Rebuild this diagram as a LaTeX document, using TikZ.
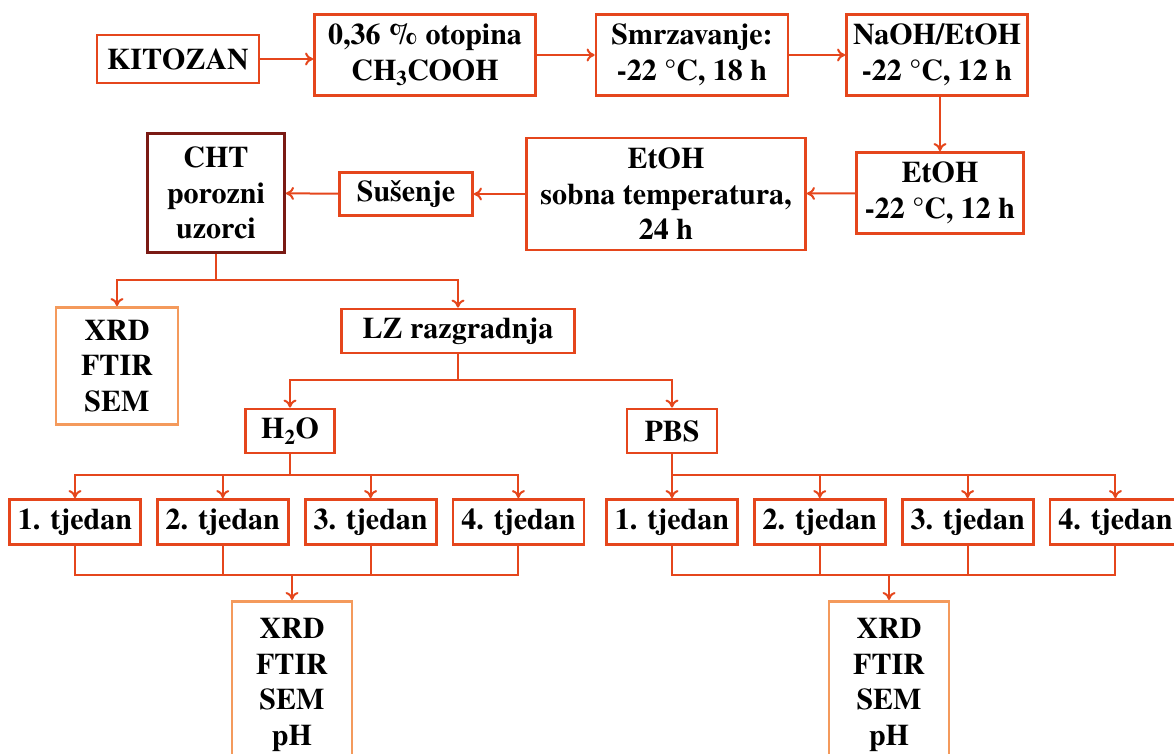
\documentclass[tikz,border=0pt]{standalone}
\usepackage{fontspec}
\setmainfont{texgyretermes}[Extension=.otf, UprightFont=*-regular, BoldFont=*-bold,
    ItalicFont=*-italic, BoldItalicFont=*-bolditalic]
\usetikzlibrary{positioning, arrows.meta, calc}
\definecolor{crv}{HTML}{E5461C}
\definecolor{svj}{HTML}{F49A5C}
\definecolor{tam}{HTML}{7A1A14}

\tikzset{
    box/.style={draw=crv, line width=2.8pt, fill=white, align=center, inner sep=0pt,
        font=\rmfamily\fontsize{30}{35.5}\selectfont\bfseries},
    tamna/.style={box, draw=tam},
    svijetla/.style={box, draw=svj},
    tjedan/.style={box, minimum width=131pt, minimum height=45pt},
    veza/.style={draw=crv, line width=2pt},
    strelica/.style={veza, -{To[length=8pt, width=13pt]}},
}

\begin{document}
\begin{tikzpicture}[x=1pt, y=-1pt, node distance=14pt]
        \path[use as bounding box, clip] (0,0) rectangle (1174,753);

        % gornji red
        \node[box, minimum width=162pt, minimum height=48pt] (kit) at (178,59) {KITOZAN};
        \node[box, minimum width=221pt, minimum height=81pt] (otop) at (425,55) {0,36 \% otopina\\CH\textsubscript{3}COOH};
        \node[box, minimum width=192pt, minimum height=81pt] (smrz) at (692,55) {Smrzavanje:\\-22 °C, 18 h};
        \node[box, minimum width=181pt, minimum height=81pt] (naoh) at (937,55) {NaOH/EtOH\\-22 °C, 12 h};

        % drugi red
        \node[box, minimum width=167pt, minimum height=81pt] (etoh) at (940,193) {EtOH\\-22 °C, 12 h};
        \node[box, minimum width=279pt, minimum height=112pt] (sobna) at (666,194) {EtOH\\sobna temperatura,\\24 h};
        \node[box, minimum width=133pt, minimum height=43pt] (sus) at (406,194) {Sušenje};
        \node[tamna, minimum width=137pt, minimum height=119pt] (cht) at (216,193) {CHT\\porozni\\uzorci};

        \node[svijetla, minimum width=122pt, minimum height=117pt] (anal) at (117,366) {XRD\\FTIR\\SEM};
        \node[box, minimum width=233pt, minimum height=44pt] (lz) at (458,331) {LZ razgradnja};
        \node[box, minimum width=89pt, minimum height=44pt] (voda) at (290,431) {H\textsubscript{2}O};
        \node[box, minimum width=90pt, minimum height=44pt] (pbs) at (672,431) {PBS};

        % tjedni
        \node[tjedan] (v1) at (75,522) {1. tjedan};
        \node[tjedan, right=of v1] (v2) {2. tjedan};
        \node[tjedan, right=of v2] (v3) {3. tjedan};
        \node[tjedan, right=of v3] (v4) {4. tjedan};
        \node[tjedan] (p1) at (672,522) {1. tjedan};
        \node[tjedan, right=of p1] (p2) {2. tjedan};
        \node[tjedan, right=of p2] (p3) {3. tjedan};
        \node[tjedan, right=of p3] (p4) {4. tjedan};

        \node[svijetla, anchor=north, minimum width=120pt, inner ysep=17pt] (av) at (292,600) {XRD\\FTIR\\SEM\\pH};
        \node[svijetla, anchor=north, minimum width=120pt, inner ysep=17pt] (ap) at (889,600) {XRD\\FTIR\\SEM\\pH};

        \coordinate (c1) at (216,280);
        \coordinate (c2) at (458,380);
        \coordinate (c3) at (290,475);
        \coordinate (c4) at (672,475);
        \coordinate (c5) at (292,575);
        \coordinate (c6) at (889,575);

        \draw[strelica] (kit.east) -- (kit.east -| otop.west);
        \draw[strelica] (otop) -- (smrz);
        \draw[strelica] (smrz) -- (naoh);
        \draw[strelica] (naoh.south -| etoh) -- (etoh);
        \draw[strelica] (etoh) -- (sobna);
        \draw[strelica] (sobna) -- (sus);
        \draw[strelica] (sus) -- (cht);

        \draw[veza] (cht) -- (c1);
        \draw[strelica] (c1) -| (anal);
        \draw[strelica] (c1) -| (lz);
        \draw[veza] (lz) -- (c2);
        \draw[strelica] (c2) -| (voda);
        \draw[strelica] (c2) -| (pbs);

        \draw[veza] (voda) -- (c3);
        \foreach \t in {v1,v2,v3,v4} {
            \draw[strelica] (c3) -| (\t);
            \draw[veza] (\t) |- (c5);
        }
        \draw[veza] (pbs) -- (c4);
        \foreach \t in {p1,p2,p3,p4} {
            \draw[strelica] (c4) -| (\t);
            \draw[veza] (\t) |- (c6);
        }
        \draw[strelica] (c5) -- (av);
        \draw[strelica] (c6) -- (ap);
    \end{tikzpicture}
\end{document}
